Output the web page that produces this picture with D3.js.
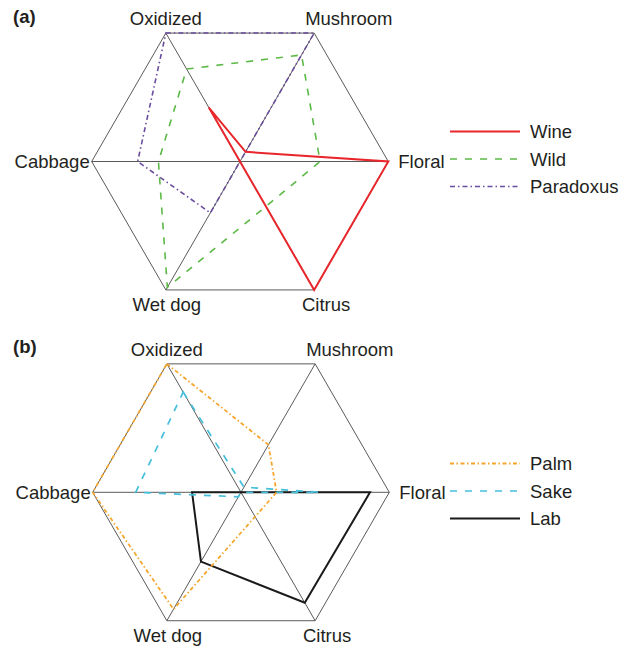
<!DOCTYPE html>
<html>
<head>
<meta charset="utf-8">
<script src="https://cdn.jsdelivr.net/npm/d3@7/dist/d3.min.js"></script>
<style>
  html, body { margin: 0; padding: 0; background: #fff; }
  svg text { font-family: "Liberation Sans", Arial, Helvetica, sans-serif; fill: #231f20; }
</style>
</head>
<body>
<svg id="chart" width="630" height="648"></svg>
<script>
// Aroma attributes, clockwise from the upper-left vertex
const attributes = ["Oxidized", "Mushroom", "Floral", "Citrus", "Wet dog", "Cabbage"];

// Panel (a): relative scores, 0..1
const wine      = [0.42, 0.075, 1.00, 1.00, 0.00, 0.00];
const wild      = [0.72, 0.83, 0.54, 0.35, 0.98, 0.55];
const paradoxus = [1.00, 1.00, 0.00, 0.00, 0.40, 0.69];

// Panel (b)
const palm = [1.00, 0.37, 0.24, 0.19, 0.91, 1.00];
const sake = [0.78, 0.04, 0.53, 0.00, 0.035, 0.71];
const lab  = [0.00, 0.00, 0.87, 0.86, 0.54, 0.33];

const panelA = [
  { name: "Wine",      values: wine,      color: "#e8262b", width: 2,   dash: null },
  { name: "Wild",      values: wild,      color: "#5cb947", width: 1.6, dash: "7,8" },
  { name: "Paradoxus", values: paradoxus, color: "#6a4c9c", width: 1.6, dash: "5,3,1.5,3" }
];
const panelB = [
  { name: "Palm", values: palm, color: "#f5a62e", width: 1.8, dash: "4,2.5,1.5,2.5" },
  { name: "Sake", values: sake, color: "#45bfdc", width: 1.7, dash: "7,8" },
  { name: "Lab",  values: lab,  color: "#1a1a1a", width: 2,   dash: null }
];

const svg = d3.select("#chart");
const R = 148.3;
const angle = d3.scaleLinear().domain([0, attributes.length]).range([-Math.PI / 6, 2 * Math.PI - Math.PI / 6]);
const radius = d3.scaleLinear().domain([0, 1]).range([0, R]);

// label placement relative to each vertex: [dx, dy, anchor]
const labelPlace = {
  "Oxidized": [0, -8, "middle"],
  "Mushroom": [-9, -8, "start"],
  "Floral":   [10, 6.5, "start"],
  "Citrus":   [12, 21, "middle"],
  "Wet dog":  [1, 21, "middle"],
  "Cabbage":  [-2, 6.5, "end"]
};

function drawPanel(cx, cy, tag, series, legendY) {
  const g = svg.append("g").attr("transform", `translate(${cx},${cy})`);
  const pt = (i, v) => {
    const a = angle(i), r = radius(v);
    return [r * Math.sin(a), -r * Math.cos(a)];
  };

  // hexagon frame
  const frame = d3.lineRadial()
    .angle((d, i) => angle(i))
    .radius(() => radius(1))
    .curve(d3.curveLinearClosed);
  g.append("path").attr("d", frame(attributes))
    .attr("fill", "none").attr("stroke", "#5a5a5a").attr("stroke-width", 1);

  // long diagonals between opposite vertices
  for (let i = 0; i < 3; i++) {
    const p = pt(i, 1), q = pt(i + 3, 1);
    g.append("line")
      .attr("x1", p[0]).attr("y1", p[1]).attr("x2", q[0]).attr("y2", q[1])
      .attr("stroke", "#5a5a5a").attr("stroke-width", 1);
  }

  // attribute labels
  attributes.forEach((name, i) => {
    const p = pt(i, 1), lp = labelPlace[name];
    g.append("text")
      .attr("x", p[0] + lp[0]).attr("y", p[1] + lp[1])
      .attr("text-anchor", lp[2]).attr("font-size", 18.5)
      .text(name);
  });

  // series polygons
  const line = d3.lineRadial()
    .angle((d, i) => angle(i))
    .radius(d => radius(d))
    .curve(d3.curveLinearClosed);
  series.slice().reverse().forEach(s => {
    g.append("path").attr("d", line(s.values))
      .attr("fill", "none").attr("stroke", s.color)
      .attr("stroke-width", s.width).attr("stroke-linejoin", "miter")
      .attr("stroke-dasharray", s.dash);
  });

  // panel tag
  svg.append("text").attr("x", 13).attr("y", cy - 139)
    .attr("font-size", 18.5).attr("font-weight", "bold").text(tag);

  // legend
  const lg = svg.append("g");
  series.forEach((s, i) => {
    const y = legendY + i * 27.5;
    lg.append("line").attr("x1", 450).attr("x2", 520).attr("y1", y).attr("y2", y)
      .attr("stroke", s.color).attr("stroke-width", s.width)
      .attr("stroke-dasharray", s.dash);
    lg.append("text").attr("x", 530).attr("y", y + 6.5)
      .attr("font-size", 18.5).text(s.name);
  });
}

drawPanel(240, 161.5, "(a)", panelA, 131.5);
drawPanel(241, 492.3, "(b)", panelB, 463.5);
</script>
</body>
</html>
